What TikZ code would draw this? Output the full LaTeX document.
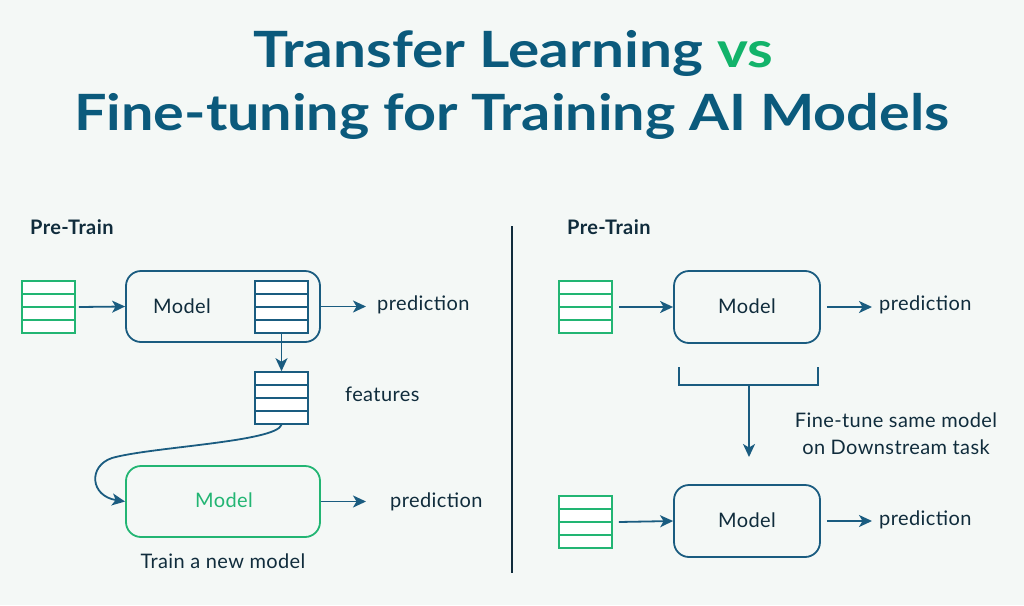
\documentclass[tikz,border=0pt]{standalone}
\usepackage{fontspec}
\setmainfont{Lato}
\usetikzlibrary{arrows.meta,calc}
\definecolor{bg}{HTML}{F4F8F6}
\definecolor{navy}{HTML}{0B5A7C}
\definecolor{boxblue}{HTML}{1A5C80}
\definecolor{ink}{HTML}{102C3C}
\definecolor{grn}{HTML}{22B573}
\definecolor{vsgreen}{HTML}{12B36A}
\tikzset{
  stackbox/.style={draw=#1, fill=white, line width=1.6pt, minimum width=53pt, minimum height=52pt, inner sep=0pt,
    path picture={\foreach \i in {1,2,3}{\draw[#1, line width=1.6pt]
      ($(path picture bounding box.north west)!\i/4!(path picture bounding box.south west)$) --
      ($(path picture bounding box.north east)!\i/4!(path picture bounding box.south east)$);}}},
  modelbox/.style={draw=#1, line width=1.8pt, rounded corners=15pt, inner sep=0pt},
  arr/.style={draw=boxblue, line width=1.8pt, -{Stealth[length=13pt,width=12pt,inset=3.5pt]}},
  lbl/.style={text=ink, font=\fontsize{20}{24}\selectfont\addfontfeature{LetterSpace=2}, inner sep=0pt},
  head/.style={text=ink, font=\fontsize{20}{24}\selectfont\bfseries\addfontfeature{LetterSpace=2}, inner sep=0pt, anchor=west},
  ttl/.style={text=navy, font=\fontsize{50}{56}\selectfont\bfseries, inner sep=0pt},
}
\begin{document}
\begin{tikzpicture}[x=1pt,y=-1pt]
\fill[bg] (0,0) rectangle (1024,605);
\useasboundingbox (0,0) rectangle (1024,605);
% title
\node[ttl] (t1) at (513,53) {\scalebox{1.17}[1]{Transfer Learning \textcolor{vsgreen}{vs}}};
\node[ttl] (t2) at (512,116) {\scalebox{1.15}[1]{Fine-tuning for Training AI Models}};
% left panel
\node[head] (lpt) at (30,227) {Pre-Train};
\node[stackbox=grn] (lin) at (48.5,307) {};
\node[modelbox=boxblue, minimum width=194pt, minimum height=71pt] (lm) at (223,306.5) {};
\node[lbl] (lmt) at (182,306) {Model};
\node[stackbox=boxblue] (lst) at (281.5,307) {};
\node[lbl, anchor=west] (lp1) at (377,305) {prediction};
\node[stackbox=boxblue] (feat) at (281.5,398) {};
\node[lbl, anchor=west] (ft) at (345,394) {features};
\node[modelbox=grn, minimum width=194pt, minimum height=71pt] (gm) at (223,501.5) {};
\node[lbl, text=grn] (gmt) at (224,500) {Model};
\node[lbl, anchor=west] (lp2) at (390,502) {prediction};
\node[lbl] (tn) at (223,561) {Train a new model};
\draw[arr] (lin.east) ++(3,0) -- (lm.west);
\draw[arr] (lm.east) -- (366,306.5);
\draw[arr] (lst.south) -- (feat.north);
\draw[arr] (feat.south) .. controls (276,442) and (150,447) .. (112,458) .. controls (88,466) and (90,496) .. (gm.west);
\draw[arr] (gm.east) -- (366,501.5);
% divider
\draw[ink, line width=2.6pt] (512,226) -- (512,573);
% right panel
\node[head] (rpt) at (567,227) {Pre-Train};
\node[stackbox=grn] (rin) at (585.5,307) {};
\node[modelbox=boxblue, minimum width=146pt, minimum height=72pt] (rm) at (747,307) {};
\node[lbl] (rmt) at (747,306) {Model};
\node[lbl, anchor=west] (rp1) at (879,305) {prediction};
\draw[arr] (rin.east) ++(6,0) -- (rm.west);
\draw[arr] (rm.east) ++(6,0) -- (872,307);
\coordinate (bl) at (679,367);
\coordinate (br) at (818,367);
\coordinate (bm) at (749,385);
\draw[boxblue, line width=1.8pt] (bl) -- (679,385) -- (818,385) -- (br);
\node[lbl, align=center] (ftn) at (896,434) {Fine-tune same model\\[3pt]on Downstream task};
\node[stackbox=grn] (rin2) at (585.5,522) {};
\node[modelbox=boxblue, minimum width=146pt, minimum height=72pt] (rm2) at (747,521) {};
\node[lbl] (rm2t) at (747,520) {Model};
\node[lbl, anchor=west] (rp2) at (879,520) {prediction};
\draw[arr] (bm) -- (749,457);
\draw[arr] (rin2.east) ++(6,0) -- (rm2.west);
\draw[arr] (rm2.east) ++(6,0) -- (872,521);
\end{tikzpicture}
\end{document}
